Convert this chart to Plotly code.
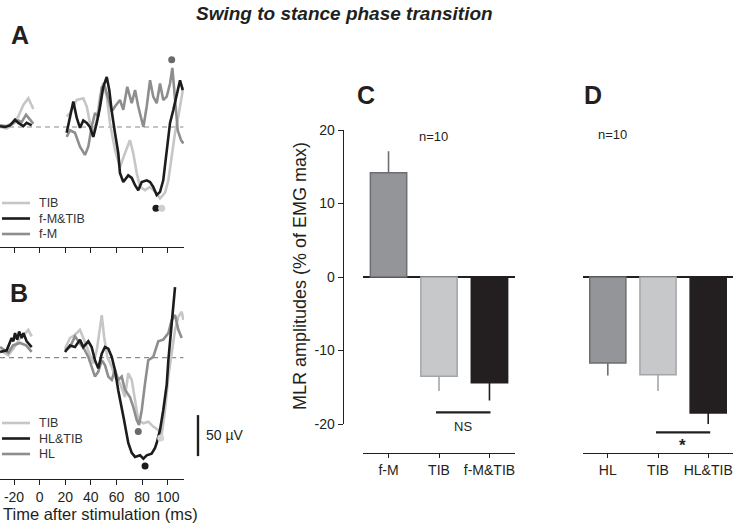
import plotly.graph_objects as go

# ---------------- data ----------------
# Panel A traces (time in ms, amplitude in µV); None = blanked stimulus artefact
A_TIB_t = [-30.9, -25.7, -20.5, -16.6, -12.7, -8.8, -4.9, None,
           21.1, 23.7, 29.0, 34.1, 36.8, 39.3, 41.9, 44.6, 47.1, 49.7, 52.4, 54.9, 58.8, 62.7, 66.6, 70.5,
           73.1, 75.8, 78.4, 82.3, 86.2, 90.1, 94.0, 97.9, 100.5, 103.1, 105.7, 108.3, 110.9, 112.2]
A_TIB_v = [0, -2, 4, 13, 27, 35, 22, None,
           13, 17, 33, 35, 25, 5, -7, 9, 37, 54, 37, 5, -28, -49, -32, -16,
           -32, -56, -73, -77, -73, -79, -87, -80, -65, -36, -7, 13, 41, 49]

A_FMTIB_t = [-30.9, -27.0, -23.1, -19.2, -16.6, -12.7, -10.1, -6.2, None,
             21.1, 26.3, 29.0, 31.5, 34.1, 36.8, 39.3, 41.9, 44.6, 47.1, 49.7, 52.4, 54.4, 56.3, 58.8, 61.4,
             62.7, 65.3, 69.2, 71.9, 74.5, 77.0, 79.7, 83.6, 86.2, 88.7, 91.4, 94.0, 96.5, 99.2, 101.8,
             104.4, 107.0, 109.6, 111.7]
A_FMTIB_v = [1, 0, 2, 9, 5, 1, 5, 2, None,
             -7, 31, 11, -1, 8, 5, 0, -12, 5, 24, 49, 61, 45, 19, -7, -32,
             -56, -67, -59, -62, -71, -77, -67, -65, -67, -73, -83, -79, -65, -32, 5,
             21, 41, 57, 45]

A_FM_t = [-30.9, -25.7, -20.5, -16.6, -14.0, -10.6, -7.5, -4.9, None,
          21.1, 23.7, 27.6, 31.5, 35.4, 38.0, 40.6, 43.2, 45.8, 48.5, 51.0, 53.6, 56.3, 58.8, 62.7, 65.3,
          68.4, 71.9, 74.5, 77.0, 81.0, 83.6, 86.2, 88.7, 91.4, 94.0, 96.5, 99.2, 101.8, 103.6, 105.7,
          107.8, 110.4, 112.2]
A_FM_v = [2, 1, 5, 8, 6, 15, 9, 4, None,
          -12, -4, -7, -24, -34, -24, 0, 17, 13, 48, 49, 33, 19, 25, 33, 21,
          49, 29, 45, 25, 0, 25, 57, 37, 29, 53, 33, 37, 53, 72, 33,
          -4, -16, -20]

A_peak_t = [103.1, 90.8, 95.3]
A_peak_v = [82, -99, -99]

# Panel B traces
B_TIB_t = [-30.9, -24.4, -20.0, -15.3, -12.2, -8.8, -6.2, None,
           19.8, 23.7, 27.6, 31.5, 34.1, 38.0, 41.9, 44.6, 47.1, 48.5, 50.3, 52.8, 56.3, 58.8, 62.7, 66.6,
           69.2, 71.9, 74.5, 77.0, 81.0, 84.8, 88.7, 92.6, 95.3, 97.9, 100.5, 103.1, 105.7, 108.3, 110.9, 112.2]
B_TIB_v = [9, 3, 12, 24, 28, 34, 26, None,
           11, 24, 28, 34, 24, 9, -7, 9, 38, 52, 26, 1, -11, -23, -31, -48,
           -19, -27, -52, -76, -80, -78, -84, -88, -94, -64, -23, 5, 34, 50, 56, 46]

B_HLTIB_t = [-30.9, -25.7, -21.8, -20.5, -19.2, -17.5, -16.0, -14.0, -12.7, -10.1, -6.2, None,
             19.8, 23.7, 27.6, 31.5, 34.1, 38.0, 40.6, 43.2, 45.8, 48.5, 51.0, 53.6, 56.3, 58.8, 61.4, 64.1,
             65.9, 69.2, 71.9, 74.5, 78.4, 81.0, 83.6, 87.4, 90.1, 91.4, 94.0, 96.5, 99.2, 100.5, 103.1, 105.7]
B_HLTIB_v = [7, 9, 24, 20, 30, 22, 32, 24, 30, 20, 13, None,
             7, 15, 13, 22, 13, 20, 13, -3, -13, 5, 13, 11, 1, -15, -40, -60,
             -76, -104, -116, -121, -119, -123, -119, -117, -110, -104, -88, -64, -33, -3, 46, 86]

B_HL_t = [-30.9, -27.0, -24.4, -20.8, -15.3, -10.6, -6.2, None,
          19.8, 23.7, 27.6, 31.5, 35.4, 38.0, 40.6, 43.2, 45.8, 48.5, 51.0, 53.6, 56.3, 58.8, 61.4, 64.1,
          66.6, 70.5, 73.1, 75.8, 77.6, 79.7, 82.3, 84.8, 88.7, 92.6, 96.5, 100.5, 103.1, 105.7, 108.3, 110.9]
B_HL_v = [13, 9, 6, 15, 18, 15, 7, None,
          9, 13, 26, 18, 9, 1, -11, -23, -17, -3, -9, -23, -27, -15, -27, -23,
          -39, -48, -60, -76, -82, -64, -31, -3, 1, 20, 22, 30, 46, 52, 34, 24]

B_peak_t = [77.0, 82.3, 94.5]
B_peak_v = [-90, -132, -98]

time_ticks = [-20, 0, 20, 40, 60, 80, 100]
time_ticklabels = ["-20", "0", "20", "40", "60", "80", "100"]
scale_bar_uv = [-120, -70]   # 50 µV

# Panel C / D bar charts (MLR amplitudes, % of EMG max)
C_categories = ["f-M", "TIB", "f-M&TIB"]
C_means = [14.2, -13.5, -14.4]
C_sem = [2.9, 2.0, 2.4]
D_categories = ["HL", "TIB", "HL&TIB"]
D_means = [-11.7, -13.3, -18.5]
D_sem = [1.7, 2.2, 1.5]
bar_ticks = [-20, -10, 0, 10, 20]
bar_ticklabels = ["-20", "-10", "0", "10", "20"]
C_sig_pair = [1, 2]
D_sig_pair = [1, 2]

# legend entries (label order as shown)
A_legend = ["TIB", "f-M&TIB", "f-M"]
B_legend = ["TIB", "HL&TIB", "HL"]

# ---------------- styling ----------------
W, H = 740, 526
FONT = "Liberation Sans, Arial, sans-serif"
LIGHT, MID, DARK = "#c6c6c6", "#8e8e8e", "#1c1c1c"
AXC = "#231f20"
legend_colors = [LIGHT, DARK, MID]


def px(x):
    return x / W


def py(y):
    return 1 - y / H


fig = go.Figure()

# Panel A traces
for name, t, v, col in [("TIB", A_TIB_t, A_TIB_v, LIGHT),
                        ("f-M", A_FM_t, A_FM_v, MID),
                        ("f-M&TIB", A_FMTIB_t, A_FMTIB_v, DARK)]:
    fig.add_trace(go.Scatter(x=t, y=v, mode="lines", name=name, connectgaps=False,
                             line=dict(color=col, width=2.6), xaxis="x", yaxis="y",
                             showlegend=False))
fig.add_trace(go.Scatter(x=A_peak_t, y=A_peak_v, mode="markers", showlegend=False,
                         marker=dict(color=["#6a6a6a", DARK, "#cfcfcf"], size=7),
                         xaxis="x", yaxis="y"))

# Panel B traces
for name, t, v, col in [("TIB", B_TIB_t, B_TIB_v, LIGHT),
                        ("HL", B_HL_t, B_HL_v, MID),
                        ("HL&TIB", B_HLTIB_t, B_HLTIB_v, DARK)]:
    fig.add_trace(go.Scatter(x=t, y=v, mode="lines", name=name, connectgaps=False,
                             line=dict(color=col, width=2.6), xaxis="x2", yaxis="y2",
                             showlegend=False))
fig.add_trace(go.Scatter(x=B_peak_t, y=B_peak_v, mode="markers", showlegend=False,
                         marker=dict(color=["#6a6a6a", DARK, "#d4d4d4"], size=7),
                         xaxis="x2", yaxis="y2"))

# Bars
fills = ["#939598", "#c7c8ca", "#231f20"]
edges = ["#6d6e71", "#a3a5a8", "#231f20"]
for cats, means, sems, xa, ya in [(C_categories, C_means, C_sem, "x3", "y3"),
                                  (D_categories, D_means, D_sem, "x4", "y4")]:
    for i, cat in enumerate(cats):
        m, e = means[i], sems[i]
        fig.add_trace(go.Bar(
            x=[cat], y=[m], width=0.72, showlegend=False, name=cat,
            marker=dict(color=fills[i], line=dict(color=edges[i], width=1.5)),
            error_y=dict(type="data", symmetric=False,
                         array=[e if m > 0 else 0], arrayminus=[e if m < 0 else 0],
                         color=edges[i], thickness=1.6, width=0),
            xaxis=xa, yaxis=ya))

time_axis = dict(domain=[0, px(184)], range=[-30.93, 112.7], tickvals=time_ticks,
                 ticktext=time_ticklabels, ticks="outside", ticklen=5, tickwidth=1.3,
                 tickcolor=AXC, showline=True, linecolor=AXC, linewidth=1.3, automargin=False,
                 showgrid=False, zeroline=False, tickfont=dict(size=14, color=AXC))
cat_axis = dict(type="category", range=[-0.5, 2.5], anchor="free", position=py(453),
                ticks="outside", ticklen=4, tickwidth=1.3, tickcolor=AXC, automargin=False,
                showline=True, linecolor=AXC, linewidth=1.3, showgrid=False,
                zeroline=False, tickfont=dict(size=14, color=AXC))

fig.update_layout(
    width=W, height=H, margin=dict(l=0, r=0, t=0, b=0, autoexpand=False),
    paper_bgcolor="white", plot_bgcolor="rgba(0,0,0,0)",
    font=dict(family=FONT, color=AXC),
    barmode="overlay", showlegend=False,
    xaxis=dict(time_axis, anchor="y", showticklabels=False),
    yaxis=dict(domain=[py(247), py(40)], range=[-146.3, 106.1], visible=False, automargin=False),
    xaxis2=dict(time_axis, anchor="y2", showticklabels=True),
    yaxis2=dict(domain=[py(479), py(270)], range=[-147.9, 106.95], visible=False, automargin=False),
    xaxis3=dict(cat_axis, domain=[px(363.3), px(514.7)]),
    yaxis3=dict(domain=[py(424), py(130)], range=[-20, 20], anchor="free", position=px(342.7),
                tickvals=bar_ticks, ticktext=bar_ticklabels, ticks="outside", ticklen=5,
                tickwidth=1.3, tickcolor=AXC, showline=True, linecolor=AXC, linewidth=1.3,
                showgrid=False, zeroline=True, zerolinecolor=AXC, zerolinewidth=1.5,
                automargin=False, tickfont=dict(size=14, color=AXC)),
    xaxis4=dict(cat_axis, domain=[px(582.7), px(733.3)]),
    yaxis4=dict(domain=[py(424), py(130)], range=[-20, 20], anchor="x4", automargin=False,
                showticklabels=False, showline=False, ticks="", showgrid=False,
                zeroline=True, zerolinecolor=AXC, zerolinewidth=1.5),
)

shapes = [
    dict(type="line", xref="x", yref="y", x0=-30.9, x1=112.2, y0=0, y1=0,
         line=dict(color="#8a8a8a", width=1.2, dash="5px,4px"), layer="below"),
    dict(type="line", xref="x2", yref="y2", x0=-30.9, x1=112.2, y0=0, y1=0,
         line=dict(color="#8a8a8a", width=1.2, dash="5px,4px"), layer="below"),
    dict(type="line", xref="paper", yref="y2", x0=px(198), x1=px(198),
         y0=scale_bar_uv[0], y1=scale_bar_uv[1], line=dict(color=AXC, width=2.4)),
    dict(type="line", xref="x3", yref="paper", x0=C_sig_pair[0] - 0.06, x1=C_sig_pair[1] + 0.02,
         y0=py(412.3), y1=py(412.3), line=dict(color=AXC, width=2.2)),
    dict(type="line", xref="x4", yref="paper", x0=D_sig_pair[0] - 0.04, x1=D_sig_pair[1] + 0.04,
         y0=py(432.3), y1=py(432.3), line=dict(color=AXC, width=2.2)),
]


def ann(text, x, y, size, **kw):
    d = dict(text=text, x=px(x), y=py(y), xref="paper", yref="paper", showarrow=False,
             xanchor="center", yanchor="middle",
             font=dict(size=size, color=kw.pop("color", AXC), family=FONT))
    d.update(kw)
    return d


annotations = [
    ann("<b><i>Swing to stance phase transition</i></b>", 344, 13, 19),
    ann("<b>A</b>", 20, 35, 25),
    ann("<b>B</b>", 19, 293, 25),
    ann("<b>C</b>", 366, 95, 25),
    ann("<b>D</b>", 593, 95, 25),
    ann("n=10", 433, 136, 13),
    ann("n=10", 612, 135, 13),
    ann("NS", 463, 426, 13),
    ann("<b>*</b>", 682, 445, 17),
    ann("50 µV", 204, 435, 14, xanchor="left"),
    ann("Time after stimulation (ms)", 1, 514, 16.5, xanchor="left"),
    ann("MLR amplitudes (% of EMG max)", 300, 276, 18, textangle=-90),
]

# manual legends (short line sample + label)
for labels, y0 in [(A_legend, 203), (B_legend, 423)]:
    for k, lab in enumerate(labels):
        yy = y0 + 15.5 * k
        shapes.append(dict(type="line", xref="paper", yref="paper", x0=px(2), x1=px(30),
                           y0=py(yy), y1=py(yy), line=dict(color=legend_colors[k], width=2.6)))
        annotations.append(ann(lab, 37, yy, 12.5, xanchor="left", color="#333"))

fig.update_layout(shapes=shapes, annotations=annotations)

fig.write_html("out.html", config={"displayModeBar": False},
               post_script="document.body.style.margin='0px';")
